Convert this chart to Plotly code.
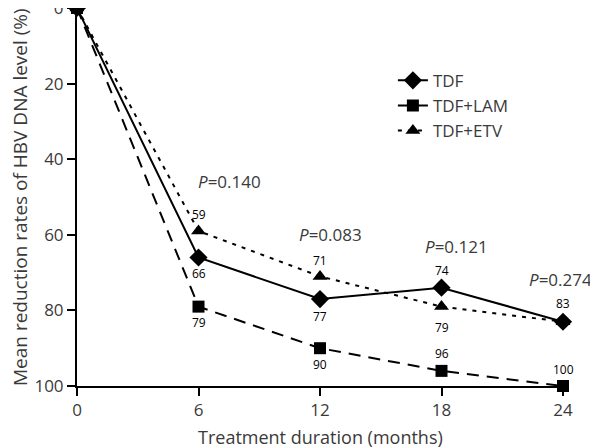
import plotly.graph_objects as go

months = [0, 6, 12, 18, 24]
tdf = [0, 66, 77, 74, 83]
tdf_lam = [0, 79, 90, 96, 100]
tdf_etv = [0, 59, 71, 79, 83]
x_ticks = [0, 6, 12, 18, 24]
y_ticks = [0, 20, 40, 60, 80, 100]
p_labels = ["0.140", "0.083", "0.121", "0.274"]
p_x = [5.9, 10.85, 17.1, 22.2]
p_y = [46, 60, 63, 71.8]

# label placement: shift in pixels (positive = below)
tdf_shift = [None, 16, 17, -17, -18]
lam_shift = [None, 16, 16, -17, -17]
etv_shift = [None, -17, -16, 21, None]

FONT = "Open Sans"
GRAY = "#3a3a3a"

fig = go.Figure()
fig.add_trace(go.Scatter(x=months, y=tdf, name="TDF", mode="lines+markers",
                         line=dict(color="black", width=2),
                         marker=dict(symbol="diamond", size=14, color="black"),
                         cliponaxis=False))
fig.add_trace(go.Scatter(x=months, y=tdf_lam, name="TDF+LAM", mode="lines+markers",
                         line=dict(color="black", width=2, dash="12px,8px"),
                         marker=dict(symbol="square", size=12, color="black"),
                         cliponaxis=False))
fig.add_trace(go.Scatter(x=months, y=tdf_etv, name="TDF+ETV", mode="lines+markers",
                         line=dict(color="black", width=2, dash="4px,6px"),
                         marker=dict(symbol="triangle-up", size=13, color="black"),
                         cliponaxis=False))

for vals, shifts in [(tdf, tdf_shift), (tdf_lam, lam_shift), (tdf_etv, etv_shift)]:
    for xv, yv, s in zip(months, vals, shifts):
        if s is None:
            continue
        fig.add_annotation(x=xv, y=yv, text=str(yv), showarrow=False, yshift=-s,
                           font=dict(family=FONT, size=12, color="black"))

for lab, xv, yv in zip(p_labels, p_x, p_y):
    fig.add_annotation(x=xv, y=yv, text="<i>P</i>=" + lab, showarrow=False,
                       xanchor="left", yanchor="middle",
                       font=dict(family=FONT, size=17, color=GRAY))

# axis titles as annotations for exact placement
fig.add_annotation(xref="paper", yref="paper", x=0, y=0.5, xanchor="center", yanchor="middle",
                   xshift=-57, textangle=-90, showarrow=False,
                   text="Mean reduction rates of HBV DNA level (%)",
                   font=dict(family=FONT, size=19, color=GRAY))
fig.add_annotation(xref="paper", yref="paper", x=0.5, y=0, xanchor="center", yanchor="middle",
                   yshift=-51, showarrow=False,
                   text="Treatment duration (months)",
                   font=dict(family=FONT, size=18, color=GRAY))

fig.update_layout(
    width=590, height=440,
    margin=dict(l=69, r=35, t=0, b=62, autoexpand=False),
    plot_bgcolor="white", paper_bgcolor="white",
    font=dict(family=FONT, color=GRAY),
    showlegend=True,
    legend=dict(x=0.65, y=0.855, xanchor="left", yanchor="top",
                font=dict(family=FONT, size=17, color=GRAY),
                bgcolor="rgba(0,0,0,0)", tracegroupgap=0),
    xaxis=dict(range=[0, 24], tickvals=x_ticks, showgrid=False, zeroline=False,
               automargin=False,
               showline=True, linecolor="black", linewidth=2,
               ticks="outside", ticklen=8, tickwidth=2, tickcolor="black",
               tickfont=dict(size=17, color=GRAY)),
    yaxis=dict(range=[100, 0], tickvals=y_ticks, showgrid=False, zeroline=False,
               automargin=False, ticklabeloverflow="allow",
               showline=True, linecolor="black", linewidth=2,
               ticks="outside", ticklen=8, tickwidth=2, tickcolor="black",
               tickfont=dict(size=17, color=GRAY)),
)

fig.write_html("out.html")
